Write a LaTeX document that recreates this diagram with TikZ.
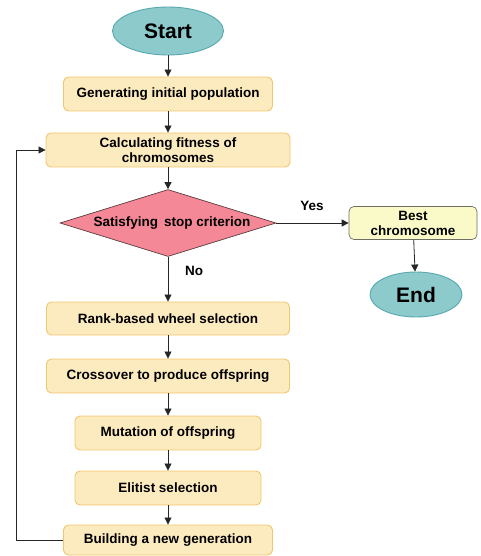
\documentclass[tikz,border=0pt]{standalone}
\usepackage{fontspec}
\setmainfont{Liberation Sans}
\usetikzlibrary{shapes.geometric,arrows.meta}
\definecolor{boxfill}{RGB}{253,235,192}
\definecolor{boxline}{RGB}{240,198,110}
\definecolor{termfill}{RGB}{140,202,204}
\definecolor{termline}{RGB}{88,168,176}
\definecolor{decfill}{RGB}{245,136,150}
\definecolor{decline}{RGB}{90,60,60}
\definecolor{bestfill}{RGB}{250,250,200}
\definecolor{bestline}{RGB}{110,110,100}
\begin{document}
\begin{tikzpicture}[x=1pt,y=-1pt,
  txt/.style={font=\fontsize{13.5}{15}\selectfont\bfseries},
  procbox/.style={draw=boxline, line width=0.9pt, fill=boxfill, rounded corners=5pt,
    inner sep=0pt, align=center, txt},
  term/.style={ellipse, draw=termline, line width=0.9pt, fill=termfill, inner sep=0pt,
    font=\fontsize{21}{24}\selectfont\bfseries},
  decision/.style={diamond, draw=decline, line width=0.7pt, fill=decfill, inner sep=0pt,
    shape aspect=3.2, minimum width=216pt, minimum height=67pt, txt},
  bestbox/.style={draw=bestline, line width=0.7pt, fill=bestfill, rounded corners=5pt,
    inner sep=0pt, align=center, txt},
  arr/.style={draw=black!85, line width=0.8pt, -{Triangle[length=7pt,width=7pt]}},
  lbl/.style={txt}
]
\useasboundingbox (0,0) rectangle (480,556);

\node[term, minimum width=111pt, minimum height=48pt] (start) at (168,31) {Start};
\node[procbox, minimum width=209pt, minimum height=34pt] (gen) at (168,94) {Generating initial population};
\node[procbox, minimum width=244pt, minimum height=34pt] (calc) at (168,150) {Calculating fitness of\\chromosomes};
\node[decision] (dec) at (168,223) {\hspace{8pt}Satisfying\, stop criterion};
\node[bestbox, minimum width=128pt, minimum height=33pt] (best) at (413,223) {Best\\chromosome};
\node[term, minimum width=92pt, minimum height=45pt] (end) at (416,294.5) {End};
\node[procbox, minimum width=243pt, minimum height=33pt] (rank) at (168,318.5) {Rank-based wheel selection};
\node[procbox, minimum width=243pt, minimum height=34pt] (cross) at (168,376) {Crossover to produce offspring};
\node[procbox, minimum width=186pt, minimum height=34pt] (mut) at (168,433) {Mutation of offspring};
\node[procbox, minimum width=186pt, minimum height=34pt] (elit) at (168,488) {Elitist selection};
\node[procbox, minimum width=209pt, minimum height=30pt] (build) at (168,540) {Building a new generation};

\node[lbl] (yes) at (312,206) {Yes};
\node[lbl] (no) at (194,271) {No};

\draw[arr] (start) -- (gen);
\draw[arr] (gen) -- (calc);
\draw[arr] (calc) -- (dec);
\draw[arr] (dec.east) -- (best.west);
\draw[arr] (best) -- (end);
\draw[arr] (dec.south) -- (rank.north);
\draw[arr] (rank) -- (cross);
\draw[arr] (cross) -- (mut);
\draw[arr] (mut) -- (elit);
\draw[arr] (elit) -- (build);
\draw[arr] (build.west) -- ++(-47,0) |- (calc.west);
\end{tikzpicture}
\end{document}
